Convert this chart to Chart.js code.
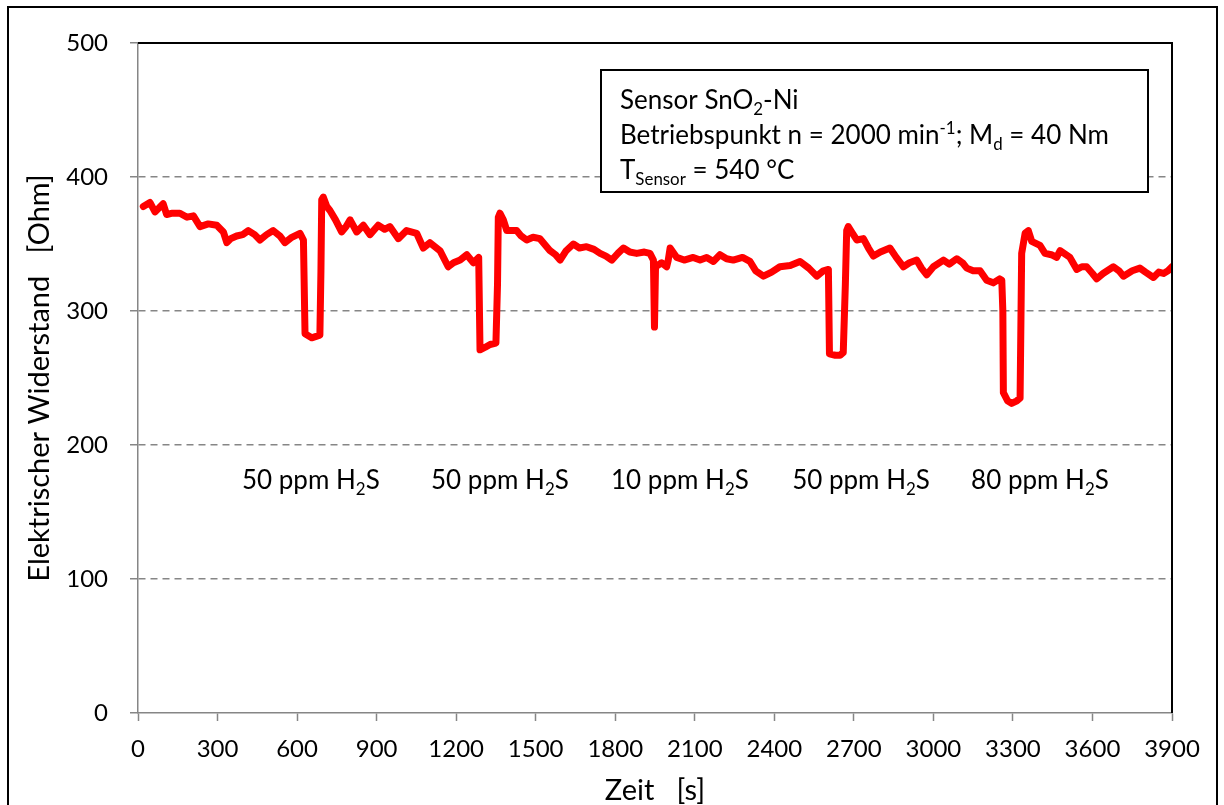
<!DOCTYPE html>
<html>
<head>
<meta charset="utf-8">
<script src="https://cdn.jsdelivr.net/npm/chart.js@4.4.1/dist/chart.umd.min.js"></script>
<style>
  html, body { margin: 0; padding: 0; background: #fff; }
</style>
</head>
<body>
<canvas id="chart" width="1224" height="805"></canvas>
<script>
const timeSec = [
  20, 45, 64, 80, 95, 108, 130, 158, 185, 209, 234, 265, 297, 322, 335, 350, 372, 395, 416, 440,
  460, 485, 510, 535, 554, 580, 611, 624, 630, 655, 686, 690, 693, 699, 712, 724, 745, 768, 785, 800,
  825, 850, 875, 906, 930, 950, 982, 1013, 1051, 1076, 1101, 1139, 1170, 1190, 1215, 1240, 1265, 1285, 1290, 1310,
  1328, 1350, 1356, 1359, 1365, 1378, 1391, 1428, 1445, 1466, 1490, 1516, 1554, 1575, 1592, 1615, 1642, 1665, 1692, 1720,
  1743, 1765, 1787, 1810, 1831, 1855, 1881, 1910, 1931, 1944, 1948, 1952, 1975, 1994, 2000, 2007, 2032, 2060, 2094, 2120,
  2145, 2170, 2195, 2220, 2245, 2280, 2308, 2330, 2359, 2390, 2421, 2460, 2497, 2530, 2560, 2585, 2604, 2608, 2630, 2648,
  2660, 2668, 2673, 2679, 2695, 2711, 2736, 2755, 2774, 2800, 2836, 2860, 2887, 2910, 2937, 2955, 2975, 3000, 3038, 3060,
  3088, 3110, 3126, 3150, 3176, 3201, 3226, 3250, 3258, 3262, 3264, 3280, 3295, 3315, 3327, 3333, 3346, 3358, 3371, 3402,
  3421, 3445, 3465, 3478, 3500, 3515, 3541, 3560, 3578, 3600, 3616, 3640, 3679, 3700, 3717, 3750, 3779, 3800, 3830, 3850,
  3868, 3885, 3900
];
const resistanceOhm = [
  378, 381, 374, 377, 380, 372, 373, 373, 370, 371, 363, 365, 364, 359, 351, 354, 356, 357, 360, 357,
  353, 357, 360, 356, 351, 355, 358, 353, 283, 280, 282, 330, 383, 385, 378, 375, 368, 359, 363, 368,
  359, 364, 357, 364, 361, 363, 354, 360, 358, 347, 351, 345, 333, 336, 338, 342, 336, 340, 271, 273,
  275, 276, 320, 370, 373, 368, 360, 360, 356, 353, 355, 354, 345, 342, 338, 345, 350, 347, 348, 346,
  343, 341, 338, 343, 347, 344, 343, 344, 343, 338, 288, 333, 336, 333, 338, 347, 340, 338, 340, 338,
  340, 337, 342, 339, 338, 340, 337, 330, 326, 329, 333, 334, 337, 332, 326, 330, 331, 268, 267, 267,
  269, 320, 360, 363, 358, 353, 354, 347, 341, 344, 347, 340, 333, 336, 338, 332, 327, 333, 338, 335,
  339, 336, 332, 330, 330, 323, 321, 324, 323, 300, 239, 233, 231, 233, 235, 343, 358, 360, 352, 349,
  343, 342, 340, 345, 342, 340, 331, 333, 333, 328, 324, 328, 333, 330, 326, 330, 332, 329, 325, 329,
  328, 330, 333
];

// gas pulse labels (x position in s, y position in Ohm)
const gasConc = ['50 ppm', '50 ppm', '10 ppm', '50 ppm', '80 ppm'];
const gasLabelTime = [652, 1365, 2044, 2727, 3402];
const gasLabelOhm = 173;

const FONT = 'Lato';
const axisGray = '#868686';

// draw a line of text made of parts, some of them sub/superscript
function drawRich(ctx, parts, x, y, size, align) {
  const widths = parts.map(p => {
    ctx.font = (p.sub || p.sup ? size * 0.65 : size) + 'px ' + FONT;
    return ctx.measureText(p.t).width;
  });
  const total = widths.reduce((a, b) => a + b, 0);
  let cx = align === 'center' ? x - total / 2 : x;
  ctx.textAlign = 'left';
  ctx.textBaseline = 'alphabetic';
  parts.forEach((p, i) => {
    ctx.font = (p.sub || p.sup ? size * 0.65 : size) + 'px ' + FONT;
    let dy = 0;
    if (p.sub) dy = size * 0.22;
    if (p.sup) dy = -size * 0.38;
    ctx.fillText(p.t, cx, y + dy);
    cx += widths[i];
  });
}

const decorations = {
  id: 'decorations',
  beforeDraw(chart) {
    const ctx = chart.ctx;
    ctx.save();
    ctx.fillStyle = '#fff';
    ctx.fillRect(0, 0, chart.width, chart.height);
    ctx.strokeStyle = '#000';
    ctx.lineWidth = 2;
    ctx.strokeRect(8, 7, 1209, 830);
    ctx.restore();
  },
  afterDraw(chart) {
    const ctx = chart.ctx;
    const a = chart.chartArea;
    const xs = chart.scales.x, ys = chart.scales.y;
    ctx.save();
    // top and right frame of the plot area
    ctx.strokeStyle = '#000';
    ctx.lineWidth = 2;
    ctx.beginPath();
    ctx.moveTo(a.left, a.top);
    ctx.lineTo(a.right, a.top);
    ctx.lineTo(a.right, a.bottom);
    ctx.stroke();

    // gas labels
    ctx.fillStyle = '#000';
    gasConc.forEach((c, i) => {
      drawRich(ctx, [{ t: c + ' H' }, { t: '2', sub: true }, { t: 'S' }],
        xs.getPixelForValue(gasLabelTime[i]), ys.getPixelForValue(gasLabelOhm) + 8, 26, 'center');
    });

    // info box
    const bx = a.left + 463, by = a.top + 27, bw = 547, bh = 122;
    ctx.fillStyle = '#fff';
    ctx.fillRect(bx, by, bw, bh);
    ctx.strokeStyle = '#000';
    ctx.lineWidth = 2;
    ctx.strokeRect(bx, by, bw, bh);
    ctx.fillStyle = '#000';
    const tx = bx + 19;
    drawRich(ctx, [{ t: 'Sensor SnO' }, { t: '2', sub: true }, { t: '-Ni' }], tx, by + 39, 26);
    drawRich(ctx, [{ t: 'Betriebspunkt n = 2000 min' }, { t: '-1', sup: true }, { t: '; M' }, { t: 'd', sub: true }, { t: ' = 40 Nm' }], tx, by + 74, 26);
    drawRich(ctx, [{ t: 'T' }, { t: 'Sensor', sub: true }, { t: ' = 540 °C' }], tx, by + 109, 26);
    ctx.restore();
  }
};

const tickFont = { family: FONT, size: 24 };
const titleFont = { family: FONT, size: 29, lineHeight: 1 };

document.fonts.load('24px ' + FONT).finally(() => {
  new Chart(document.getElementById('chart').getContext('2d'), {
    type: 'line',
    data: {
      datasets: [{
        data: timeSec.map((t, i) => ({ x: t, y: resistanceOhm[i] })),
        borderColor: '#ff0000',
        borderWidth: 7,
        borderJoinStyle: 'round',
        borderCapStyle: 'round',
        pointRadius: 0,
        tension: 0,
        fill: false
      }]
    },
    options: {
      responsive: false,
      animation: false,
      layout: { padding: { left: 0, top: 43, right: 52, bottom: 0 } },
      plugins: { legend: { display: false }, tooltip: { enabled: false } },
      scales: {
        x: {
          type: 'linear',
          min: 0,
          max: 3900,
          ticks: { stepSize: 300, padding: 14, font: tickFont, color: '#000', maxRotation: 0, autoSkip: false,
            callback: v => String(v) },
          grid: { drawOnChartArea: false, drawTicks: true, tickLength: 8, tickColor: axisGray, tickWidth: 1.5 },
          border: { color: axisGray, width: 1.5 },
          title: { display: true, text: 'Zeit   [s]', font: titleFont, color: '#000', padding: { top: 0, bottom: 0 } },
          afterFit: s => { s.height = 92; }
        },
        y: {
          min: 0,
          max: 500,
          ticks: { stepSize: 100, padding: 22, font: tickFont, color: '#000', callback: v => String(v) },
          grid: {
            color: c => (c.tick && c.tick.value > 0 && c.tick.value < 500) ? axisGray : 'rgba(0,0,0,0)',
            lineWidth: 1.5,
            drawTicks: true,
            tickLength: 8,
            tickColor: axisGray,
            tickWidth: 1.5
          },
          border: { color: axisGray, width: 1.5, dash: [7, 5] },
          title: { display: true, text: 'Elektrischer Widerstand   [Ohm]', font: titleFont, color: '#000', padding: { top: 25, bottom: 0 } },
          afterFit: s => { s.width = 138; }
        }
      }
    },
    plugins: [decorations]
  });
});
</script>
</body>
</html>
